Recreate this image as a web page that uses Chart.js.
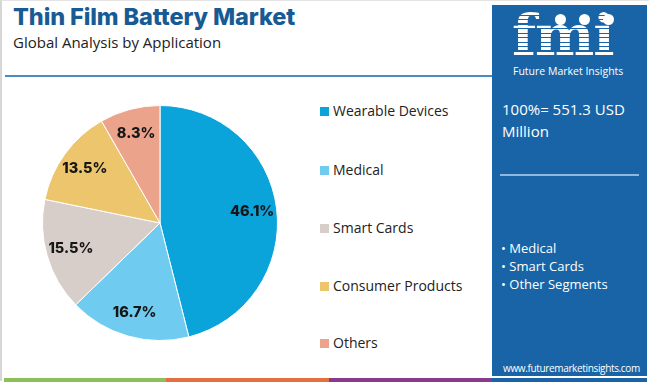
<!DOCTYPE html>
<html>
<head>
<meta charset="utf-8">
<script src="https://cdn.jsdelivr.net/npm/chart.js@4"></script>
<style>
  html,body{margin:0;padding:0;width:650px;height:382px;overflow:hidden;background:#fff;font-family:"Open Sans","Noto Sans",sans-serif;}
  #frame{position:absolute;left:0;top:0;width:649px;height:381px;border-left:2px solid #d6d6d6;border-top:1px solid #e4e4e4;box-sizing:border-box;}
  #title{position:absolute;left:13px;top:2px;font-family:"Inter","Noto Sans",sans-serif;font-weight:800;font-size:23.5px;color:#185b94;letter-spacing:-0.1px;white-space:nowrap;}
  #subtitle{position:absolute;left:13px;top:32px;font-size:15px;color:#222;white-space:nowrap;}
  #rule{position:absolute;left:5px;top:75px;width:487px;height:2px;background:#4a8cc0;}
  #chartbox{position:absolute;left:20px;top:83px;width:280px;height:280px;}
  #legend{position:absolute;left:320px;top:0;width:170px;}
  .li{position:absolute;left:0;white-space:nowrap;font-size:14px;color:#222;}
  .li span.sw{position:absolute;left:0;top:6px;width:9px;height:9px;}
  .li span.tx{position:absolute;left:13px;top:0;line-height:20px;}
  #panel{position:absolute;left:492px;top:5px;width:155px;height:371px;background:#1864a6;color:#fff;}
  #logo{position:absolute;left:20px;top:2px;font-family:"DejaVu Serif",serif;font-weight:bold;font-size:56px;line-height:56px;letter-spacing:-1px;
        background:repeating-linear-gradient(#fff 0 3px, rgba(255,255,255,0) 3px 4.5px);-webkit-background-clip:text;background-clip:text;color:transparent;}
  .dot{position:absolute;width:11px;height:11px;border-radius:50%;background:#fff;top:9px;}
  #fmitxt{position:absolute;left:21px;top:59px;font-size:10.5px;white-space:nowrap;}
  #total{position:absolute;left:10px;top:93px;font-size:15px;line-height:22px;}
  #prule{position:absolute;left:8px;top:169px;width:139px;height:2px;background:#8fb8dc;}
  #bul{position:absolute;left:9px;top:234px;font-size:13px;line-height:18px;white-space:nowrap;}
  #url{position:absolute;left:11px;top:356px;font-size:10px;letter-spacing:-0.35px;white-space:nowrap;}
  .bar{position:absolute;top:378px;height:4px;}
</style>
</head>
<body>
<div id="frame"></div>
<div id="title">Thin Film Battery Market</div>
<div id="subtitle">Global Analysis by Application</div>
<div id="rule"></div>
<div id="chartbox"><canvas id="c" width="280" height="280"></canvas></div>
<div id="legend"></div>
<div id="panel">
  <div id="logo">fmi</div>
  <div class="dot" style="left:63px"></div>
  <div class="dot" style="left:87px"></div>
  <div class="dot" style="left:111px"></div>
  <div id="fmitxt">Future Market Insights</div>
  <div id="total">100%= 551.3 USD<br>Million</div>
  <div id="prule"></div>
  <div id="bul">• Medical<br>• Smart Cards<br>• Other Segments</div>
  <div id="url">www.futuremarketinsights.com</div>
</div>
<div class="bar" style="left:4px;width:162px;background:#8dc05a"></div>
<div class="bar" style="left:166px;width:163px;background:#e4703f"></div>
<div class="bar" style="left:329px;width:163px;background:#8a3a8c"></div>
<div class="bar" style="left:492px;width:155px;background:#1864a6"></div>
<script>
const categories = ["Wearable Devices", "Medical", "Smart Cards", "Consumer Products", "Others"];
const shares = [46.1, 16.7, 15.5, 13.5, 8.3];
const colors = ["#0aa3da", "#6fcbf0", "#d8cec9", "#ecc56c", "#eca38c"];
const legendY = [101, 160, 218, 276, 333];

// HTML legend built from the arrays
const lg = document.getElementById('legend');
categories.forEach((c, i) => {
  const d = document.createElement('div');
  d.className = 'li';
  d.style.top = legendY[i] + 'px';
  d.innerHTML = '<span class="sw" style="background:' + colors[i] + '"></span><span class="tx">' + c + '</span>';
  lg.appendChild(d);
});

const pctLabels = {
  id: 'pctLabels',
  afterDatasetsDraw(chart) {
    const ctx = chart.ctx;
    const meta = chart.getDatasetMeta(0);
    ctx.save();
    ctx.font = '800 14.5px Inter, "Noto Sans", sans-serif';
    ctx.fillStyle = '#161616';
    ctx.textAlign = 'center';
    ctx.textBaseline = 'middle';
    meta.data.forEach((arc, i) => {
      const p = arc.getProps(['x','y','startAngle','endAngle','outerRadius'], true);
      const a = (p.startAngle + p.endAngle) / 2;
      const r = p.outerRadius * 0.79;
      ctx.fillText(shares[i].toFixed(1) + '%', p.x + Math.cos(a) * r, p.y + Math.sin(a) * r);
    });
    ctx.restore();
  }
};

new Chart(document.getElementById('c'), {
  type: 'pie',
  data: {
    labels: categories,
    datasets: [{
      data: shares,
      backgroundColor: colors,
      borderColor: '#ffffff',
      borderWidth: 1
    }]
  },
  options: {
    responsive: false,
    animation: false,
    layout: { padding: 22 },
    plugins: { legend: { display: false }, tooltip: { enabled: false } }
  },
  plugins: [pctLabels]
});
</script>
</body>
</html>
